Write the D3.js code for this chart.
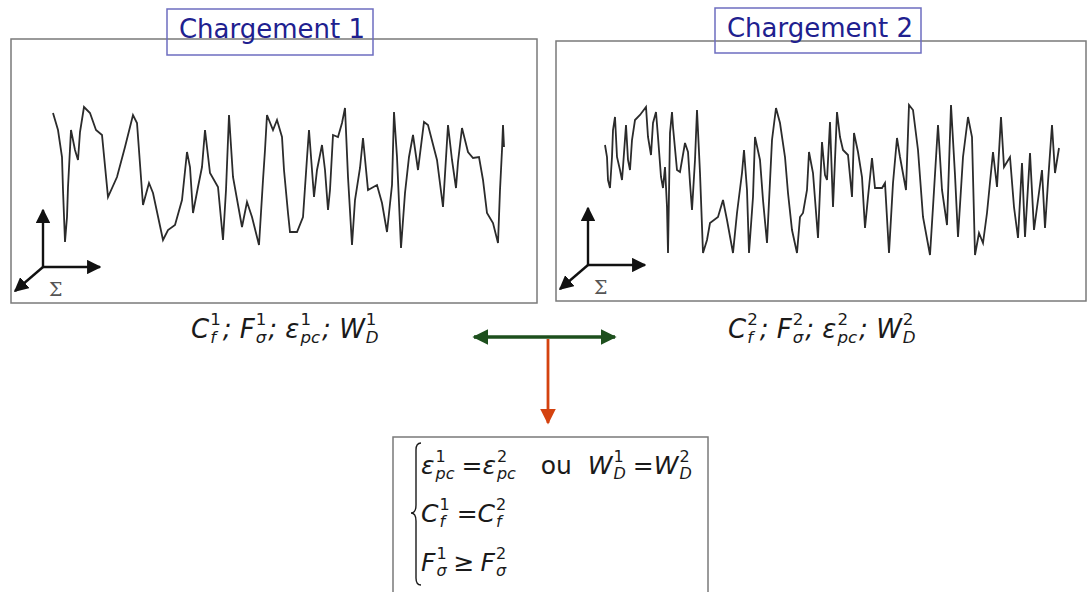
<!DOCTYPE html>
<html>
<head>
<meta charset="utf-8">
<script src="https://cdn.jsdelivr.net/npm/d3@7"></script>
<style>
  body { margin: 0; background: #fff; }
  svg { display: block; }
</style>
</head>
<body>
<svg id="chart" width="1087" height="592"></svg>
<script>
const load1T = [42,47,51,52,54,56,57,60,64,67,69,73,79,85,91,97,106,114,122,126,132,138,142,152,157,164,171,176,179,182,187,191,194,199,207,212,215,218,222,231,236,241,248,252,254,256,262,266,271,273,277,279,286,292,296,298,301,303,306,311,314,317,319,322,327,331,334,337,341,344,349,352,357,366,371,376,381,383,386,390,394,398,402,407,413,417,426,432,437,441,445,447,451,457,462,468,472,476,482,487,489,491,492,493];
const load1V = [190,173,146,113,61,86,116,173,153,143,171,196,190,173,168,106,126,156,188,180,98,120,110,63,73,78,103,151,136,90,116,136,173,130,116,63,113,188,126,76,101,86,58,123,153,188,173,183,166,133,90,71,71,86,145,173,133,106,133,158,133,93,113,168,166,180,195,126,58,103,135,165,113,118,100,71,118,191,146,55,110,146,168,133,181,178,143,96,178,143,115,141,175,151,145,146,123,90,80,60,113,153,178,156];

const load2T = [49,51,52,54,56,57,59,61,64,66,67,70,72,74,76,79,84,90,92,95,97,100,102,105,107,109,111,112,114,116,117,121,124,129,132,134,136,139,141,144,147,151,154,162,167,171,177,181,186,188,191,193,197,199,204,207,211,216,220,224,229,232,236,241,244,247,251,253,257,262,264,266,269,271,274,277,281,284,287,292,296,298,302,306,309,312,316,319,326,329,333,337,341,344,350,353,357,362,367,374,377,382,386,391,395,399,402,407,412,416,419,423,427,431,437,441,445,448,454,458,462,466,469,474,478,482,486,489,492,496,499,503];
const load2V = [156,144,121,113,144,171,184,144,131,121,134,176,141,131,161,181,186,194,164,146,178,189,164,124,113,134,94,48,168,189,174,131,129,158,149,118,91,141,191,128,48,61,78,84,101,81,48,88,128,151,111,48,104,164,141,101,58,161,193,178,144,108,71,48,84,88,111,149,128,63,111,159,126,121,179,94,189,164,151,146,104,168,149,124,73,104,143,113,113,118,48,118,163,144,111,196,191,151,84,46,94,176,111,76,196,126,64,144,184,164,46,68,58,88,149,114,184,134,144,94,63,138,64,148,71,101,131,73,119,176,128,153];

const titles = ['Chargement 1', 'Chargement 2'];

// formula pieces: base, superscript, subscript (pre = extra gap before)
const params1 = [{b:'C', sup:'1', sub:'f'}, {b:'; '}, {b:'F', sup:'1', sub:'σ'}, {b:'; '}, {b:'ε', sup:'1', sub:'pc'}, {b:'; '}, {b:'W', sup:'1', sub:'D'}];
const params2 = [{b:'C', sup:'2', sub:'f'}, {b:'; '}, {b:'F', sup:'2', sub:'σ'}, {b:'; '}, {b:'ε', sup:'2', sub:'pc'}, {b:'; '}, {b:'W', sup:'2', sub:'D'}];
const cond1 = [{b:'ε', sup:'1', sub:'pc'}, {b:'=', pre:6, up:true}, {b:'ε', sup:'2', sub:'pc'}, {b:'   ou  ', up:true}, {b:'W', sup:'1', sub:'D'}, {b:'=', pre:6, up:true}, {b:'W', sup:'2', sub:'D'}];
const cond2 = [{b:'C', sup:'1', sub:'f'}, {b:'=', pre:6, up:true}, {b:'C', sup:'2', sub:'f'}];
const cond3 = [{b:'F', sup:'1', sub:'σ'}, {b:'≥', pre:6, up:true}, {b:'F', sup:'2', sub:'σ', pre:6}];

const svg = d3.select('#chart');

const defs = svg.append('defs');
const addHead = (id, color, size) => defs.append('marker')
    .attr('id', id)
    .attr('viewBox', '0 0 10 10')
    .attr('refX', 9).attr('refY', 5)
    .attr('markerWidth', size).attr('markerHeight', size)
    .attr('markerUnits', 'strokeWidth')
    .attr('orient', 'auto-start-reverse')
    .append('path').attr('d', 'M0,0 L10,5 L0,10 z').attr('fill', color);
addHead('headBlack', '#111', 6);
addHead('headGreen', '#1d4f1d', 4.6);
addHead('headRed', '#d4420f', 5.6);

const panels = [
    {left: 11, top: 39, w: 526, h: 264, t: load1T, v: load1V, title: titles[0], box: [167, 9, 206, 46], params: params1, px: 191},
    {left: 556, top: 41, w: 530, h: 260, t: load2T, v: load2V, title: titles[1], box: [715, 8, 206, 45], params: params2, px: 728}
];

// writes a row of math pieces with stacked super/subscripts
const mathRow = (x0, y, parts, size, gap) => {
    const g = svg.append('g');
    let x = x0;
    const small = size * 0.64;
    parts.forEach(p => {
        x += p.pre || 0;
        const base = g.append('text')
            .attr('x', x).attr('y', y)
            .style('font-family', 'DejaVu Sans')
            .style('font-style', p.up ? 'normal' : 'italic')
            .style('font-size', size + 'px')
            .style('fill', '#1a1a1a')
            .attr('xml:space', 'preserve')
            .text(p.b);
        x += base.node().getComputedTextLength();
        if (p.sup || p.sub) {
            let w = 0;
            if (p.sup) {
                const s = g.append('text').attr('x', x + 1).attr('y', y - size * 0.5)
                    .style('font-family', 'DejaVu Sans').style('font-size', small + 'px')
                    .style('fill', '#1a1a1a').text(p.sup);
                w = Math.max(w, s.node().getComputedTextLength());
            }
            if (p.sub) {
                const s = g.append('text').attr('x', x + 1).attr('y', y + size * 0.18)
                    .style('font-family', 'DejaVu Sans').style('font-style', 'italic')
                    .style('font-size', small + 'px')
                    .style('fill', '#1a1a1a').text(p.sub);
                w = Math.max(w, s.node().getComputedTextLength());
            }
            x += w + gap;
        }
    });
};

panels.forEach(p => {
    const x = d3.scaleLinear().domain([0, p.w]).range([p.left, p.left + p.w]);
    const y = d3.scaleLinear().domain([0, p.h]).range([p.top + p.h, p.top]);

    svg.append('rect')
        .attr('x', p.left).attr('y', p.top)
        .attr('width', p.w).attr('height', p.h)
        .attr('fill', 'none').attr('stroke', '#7a7a7a').attr('stroke-width', 1.5);

    const line = d3.line().x(d => x(d[0])).y(d => y(d[1]));
    svg.append('path')
        .datum(d3.zip(p.t, p.v))
        .attr('d', line)
        .attr('fill', 'none').attr('stroke', '#2b2b2b').attr('stroke-width', 1.8);

    // little axes sketch in the corner
    const ox = p.left + 32, oy = p.top + p.h - 36;
    const ax = svg.append('g').attr('stroke', '#111').attr('stroke-width', 2.4);
    ax.append('line').attr('x1', ox).attr('y1', oy).attr('x2', ox).attr('y2', oy - 57).attr('marker-end', 'url(#headBlack)');
    ax.append('line').attr('x1', ox).attr('y1', oy).attr('x2', ox + 57).attr('y2', oy).attr('marker-end', 'url(#headBlack)');
    ax.append('line').attr('x1', ox).attr('y1', oy).attr('x2', ox - 28).attr('y2', oy + 24).attr('marker-end', 'url(#headBlack)');
    svg.append('text').attr('x', ox + 6).attr('y', oy + 29)
        .style('font-family', 'DejaVu Serif').style('font-size', '19px').style('fill', '#555')
        .text('Σ');

    // title box
    svg.append('rect')
        .attr('x', p.box[0]).attr('y', p.box[1]).attr('width', p.box[2]).attr('height', p.box[3])
        .attr('fill', 'none').attr('stroke', '#6d6dc0').attr('stroke-width', 1.5);
    svg.append('text')
        .attr('x', p.box[0] + p.box[2] / 2 + 2).attr('y', p.box[1] + 29)
        .attr('text-anchor', 'middle')
        .style('font-family', 'DejaVu Sans').style('font-size', '26px').style('fill', '#20208f')
        .text(p.title);

    mathRow(p.px, 338, p.params, 26, 3);
});

// arrows between the two loadings
svg.append('line').attr('x1', 474).attr('y1', 337).attr('x2', 615).attr('y2', 337)
    .attr('stroke', '#1d4f1d').attr('stroke-width', 3.5)
    .attr('marker-start', 'url(#headGreen)').attr('marker-end', 'url(#headGreen)');
svg.append('line').attr('x1', 548).attr('y1', 339).attr('x2', 548).attr('y2', 423)
    .attr('stroke', '#d4420f').attr('stroke-width', 2.8)
    .attr('marker-end', 'url(#headRed)');

// conditions box
svg.append('rect').attr('x', 393).attr('y', 437).attr('width', 315).attr('height', 170)
    .attr('fill', 'none').attr('stroke', '#7a7a7a').attr('stroke-width', 1.5);
svg.append('path')
    .attr('d', 'M421,443 Q416,443 416,450 L416,505 Q416,513 411,513 Q416,513 416,521 L416,578 Q416,585 421,585')
    .attr('fill', 'none').attr('stroke', '#1a1a1a').attr('stroke-width', 1.4);
mathRow(421, 474, cond1, 25, 2);
mathRow(421, 522, cond2, 25, 2);
mathRow(421, 571, cond3, 25, 2);
</script>
</body>
</html>
